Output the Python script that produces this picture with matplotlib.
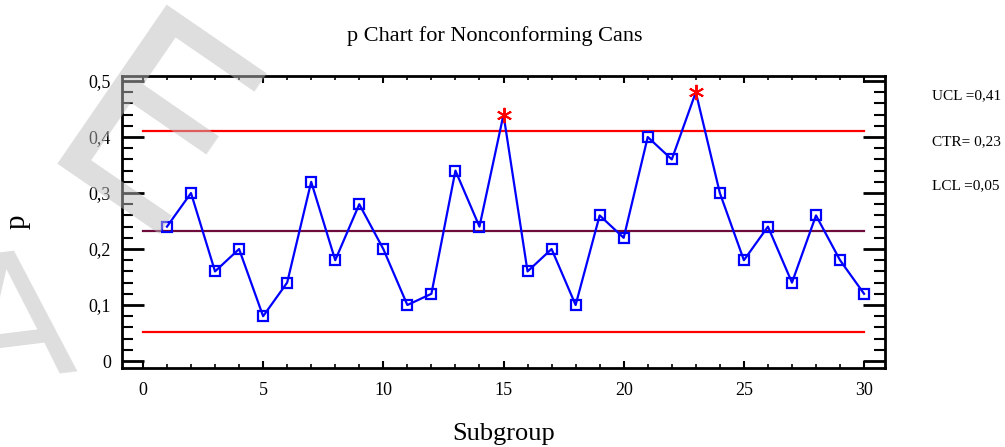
import numpy as np
import matplotlib
matplotlib.use('Agg')
import matplotlib.pyplot as plt
from matplotlib.ticker import MultipleLocator, FuncFormatter

# fraction nonconforming per subgroup (n = 50 cans each)
subgroup = list(range(1, 31))
p_values = [0.24, 0.30, 0.16, 0.20, 0.08, 0.14, 0.32, 0.18, 0.28, 0.20,
            0.10, 0.12, 0.34, 0.24, 0.44, 0.16, 0.20, 0.10, 0.26, 0.22,
            0.40, 0.36, 0.48, 0.30, 0.18, 0.24, 0.14, 0.26, 0.18, 0.12]
n = 50

p = np.array(p_values)
x = np.array(subgroup)
ctr = p.mean()
sigma = np.sqrt(ctr * (1 - ctr) / n)
ucl = ctr + 3 * sigma
lcl = ctr - 3 * sigma

plt.rcParams['font.family'] = ['Liberation Serif', 'DejaVu Serif']

fig = plt.figure(figsize=(10.05, 4.47), dpi=100)
ax = fig.add_axes([0.1214, 0.1767, 0.7592, 0.6533])

ax.plot([0, 30], [ucl, ucl], color='#ff0000', lw=1.6, zorder=2)
ax.plot([0, 30], [lcl, lcl], color='#ff0000', lw=1.6, zorder=2)
ax.plot([0, 30], [ctr, ctr], color='#6e0a3c', lw=1.6, zorder=2)

ax.plot(x, p, color='#0000ff', lw=1.6, zorder=3)
inside = (p <= ucl) & (p >= lcl)
ax.plot(x[inside], p[inside], ls='none', marker='s', ms=7.2, mfc='none',
        mec='#0000ff', mew=1.6, zorder=4)
ax.plot(x[~inside], p[~inside], ls='none', marker=(6, 2, 0), ms=11,
        mec='#ff0000', mew=1.4, zorder=4)

ax.set_xlim(-0.87, 30.87)
ax.set_ylim(-0.0125, 0.509)
ax.xaxis.set_major_locator(MultipleLocator(5))
ax.xaxis.set_minor_locator(MultipleLocator(1))
ax.yaxis.set_major_locator(MultipleLocator(0.1))
ax.yaxis.set_minor_locator(MultipleLocator(0.02))
ax.yaxis.set_major_formatter(FuncFormatter(lambda v, pos: ('%g' % round(v, 2)).replace('.', ',')))

ax.tick_params(axis='both', which='both', direction='in', top=True, right=True,
               labelsize=13, width=1.5, color='black')
ax.tick_params(axis='y', which='major', length=16, width=2)
ax.tick_params(axis='y', which='minor', length=8, width=1.5)
ax.tick_params(axis='x', which='major', length=5, width=1.5, pad=10)
ax.tick_params(axis='x', which='minor', length=3, width=1.2)
ax.tick_params(axis='y', pad=8)
for s in ax.spines.values():
    s.set_linewidth(2)

ax.set_xlabel('Subgroup', fontsize=19, labelpad=17)
ax.set_ylabel('p', fontsize=21, labelpad=42)
fig.text(0.492, 0.92, 'p Chart for Nonconforming Cans', ha='center', va='center', fontsize=16)

def fmt(v):
    return ('%.2f' % v).replace('.', ',')

fig.text(0.927, 0.787, 'UCL =' + fmt(ucl), fontsize=11, va='center')
fig.text(0.927, 0.684, 'CTR= ' + fmt(ctr), fontsize=11, va='center')
fig.text(0.927, 0.584, 'LCL =' + fmt(lcl), fontsize=11, va='center')

# faint tilted watermark letters over the left edge
wm = dict(rotation_mode='anchor', family=['Liberation Sans Narrow', 'DejaVu Sans'],
          color='#bdbdbd', alpha=0.5, ha='center', va='center_baseline', zorder=10)
fig.text(156 / 1005, 1 - 127 / 447, 'E', rotation=-34.5, fontsize=190, **wm)
fig.text(12 / 1005, 1 - 312 / 447, 'A', rotation=7, fontsize=125, **wm)

fig.savefig('out.png', dpi=100)
